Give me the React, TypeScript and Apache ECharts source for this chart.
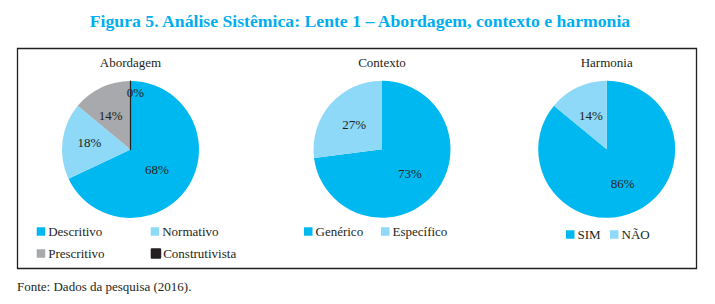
import React, { useEffect, useRef } from "react";
import * as echarts from "echarts";

const mainTitle = "Figura 5. Análise Sistêmica: Lente 1 – Abordagem, contexto e harmonia";
const footerText = "Fonte: Dados da pesquisa (2016).";

const abordagemTitle = "Abordagem";
const abordagemNames = ["Descritivo", "Normativo", "Prescritivo", "Construtivista"];
const abordagemValues = [68, 18, 14, 0];

const contextoTitle = "Contexto";
const contextoNames = ["Genérico", "Específico"];
const contextoValues = [73, 27];

const harmoniaTitle = "Harmonia";
const harmoniaNames = ["SIM", "NÃO"];
const harmoniaValues = [86, 14];

const CYAN = "#00B8F0";
const LIGHT = "#8ED8F8";
const GRAY = "#A7A9AC";
const BLACK = "#231F20";
const FONT = "Liberation Serif";

const abordagemColors = [CYAN, LIGHT, GRAY, BLACK];
const contextoColors = [CYAN, LIGHT];
const harmoniaColors = [CYAN, LIGHT];

// label nudges (style only) to mimic the original label placement
const abordagemLabelOffsets: [number, number][] = [[-5, 0], [-4, -2], [-4, 0], [5, -20]];
const noOffsets: [number, number][] = [[0, 0], [0, 0]];

// legend item slots (left, top) for each name
const legendSlots: [string, number, number][] = [
  ["Descritivo", 36.7, 225],
  ["Normativo", 150.7, 225],
  ["Prescritivo", 36.7, 247],
  ["Construtivista", 150.7, 247],
  ["Genérico", 304, 225],
  ["Específico", 381, 225],
  ["SIM", 566, 228],
  ["NÃO", 610, 228],
];

function makeData(names: string[], values: number[], colors: string[], offsets: [number, number][]) {
  return names.map((n, i) => {
    const item: any = {
      name: n,
      value: values[i],
      itemStyle: { color: colors[i] },
      label: { offset: offsets[i] },
    };
    if (values[i] === 0) {
      item.itemStyle = { color: colors[i], borderColor: colors[i], borderWidth: 1.2 };
    }
    return item;
  });
}

function pieSeries(
  center: [number, number],
  names: string[],
  values: number[],
  colors: string[],
  offsets: [number, number][]
) {
  return {
    type: "pie",
    center,
    radius: 68.5,
    startAngle: 90,
    clockwise: true,
    silent: true,
    avoidLabelOverlap: false,
    label: {
      show: true,
      position: "inside",
      formatter: "{c}%",
      color: BLACK,
      fontSize: 13,
      fontFamily: FONT,
    },
    labelLine: { show: false },
    emphasis: { disabled: true },
    data: makeData(names, values, colors, offsets),
  };
}

function subTitle(text: string, x: number) {
  return {
    text,
    left: x,
    top: 56,
    padding: 0,
    textAlign: "center",
    textStyle: { color: BLACK, fontSize: 13, fontWeight: "normal", fontFamily: FONT },
  };
}

export default function App() {
  const ref = useRef<HTMLDivElement>(null);
  useEffect(() => {
    if (!ref.current) return;
    const chart = echarts.init(ref.current, undefined, { renderer: "svg" });
    chart.setOption({
      animation: false,
      backgroundColor: "#ffffff",
      title: [
        {
          text: mainTitle,
          left: 360,
          top: 12,
          padding: 0,
          textAlign: "center",
          textStyle: { color: "#00AEEF", fontSize: 17.7, fontWeight: "bold", fontFamily: FONT },
        },
        subTitle(abordagemTitle, 130.5),
        subTitle(contextoTitle, 382),
        subTitle(harmoniaTitle, 606.7),
      ],
      legend: legendSlots.map(([name, left, top]) => ({
        data: [name],
        left,
        top,
        padding: 0,
        orient: "horizontal",
        itemWidth: 8.5,
        itemHeight: 8.5,
        icon: "rect",
        selectedMode: false,
        textStyle: { color: BLACK, fontSize: 13, fontFamily: FONT, padding: [0, 0, 0, -2] },
      })),
      graphic: [
        {
          type: "rect",
          shape: { x: 17.5, y: 48.5, width: 679, height: 220 },
          style: { fill: "none", stroke: BLACK, lineWidth: 1.3 },
          silent: true,
          z: -1,
        },
        {
          type: "text",
          x: 17,
          y: 286,
          style: {
            text: footerText,
            fill: BLACK,
            fontSize: 13,
            fontFamily: FONT,
            verticalAlign: "middle",
          },
          silent: true,
        },
      ],
      series: [
        pieSeries([130.5, 149.5], abordagemNames, abordagemValues, abordagemColors, abordagemLabelOffsets),
        pieSeries([382, 149.3], contextoNames, contextoValues, contextoColors, noOffsets),
        pieSeries([606.7, 149.3], harmoniaNames, harmoniaValues, harmoniaColors, noOffsets),
      ],
    });
    return () => chart.dispose();
  }, []);
  return (
    <div
      ref={ref}
      style={{ position: "absolute", left: 0, top: 0, width: 715, height: 304, background: "#fff" }}
    />
  );
}
